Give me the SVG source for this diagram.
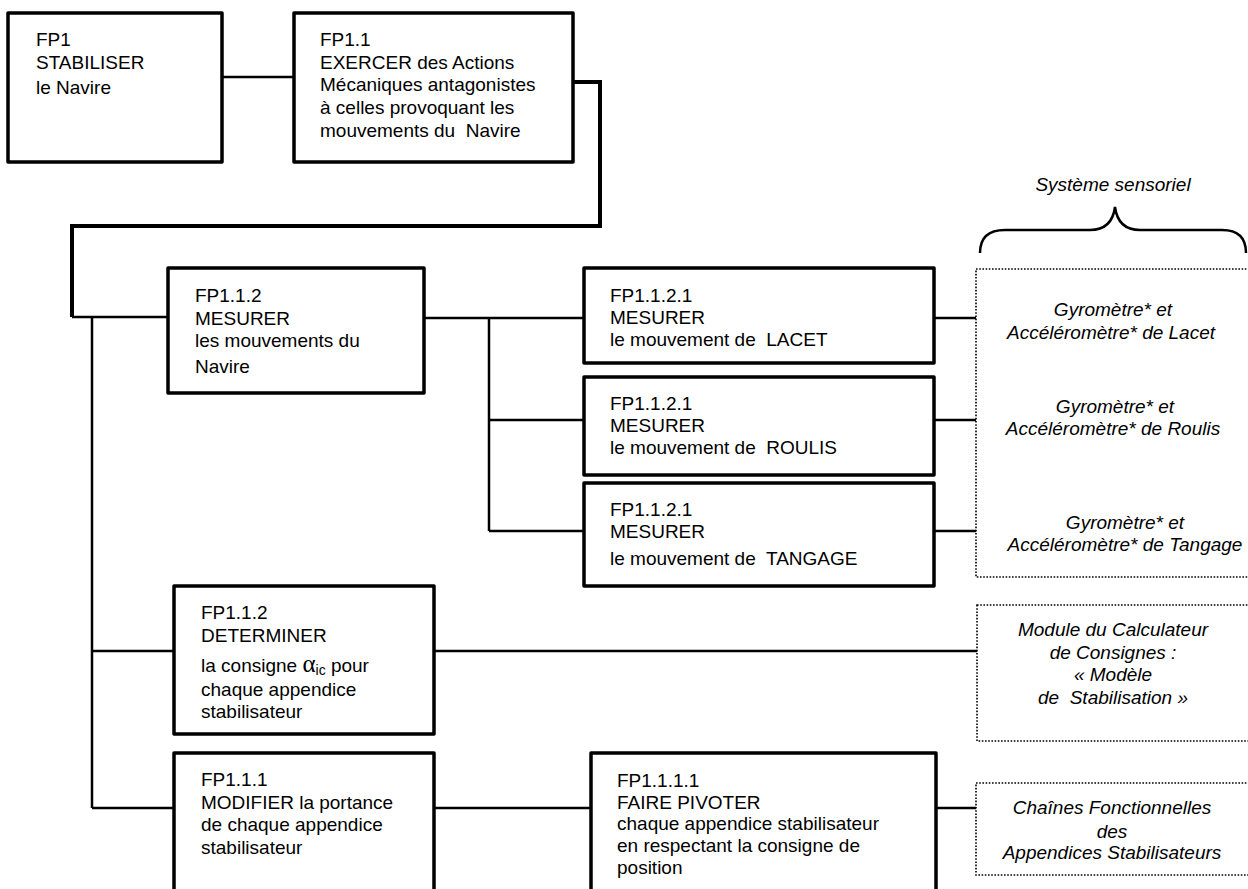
<svg xmlns="http://www.w3.org/2000/svg" width="1248" height="889" viewBox="0 0 1248 889">
<style>
.box{fill:#fff;stroke:#000;stroke-width:3.5;stroke-linejoin:round}
.dot{fill:#fff;stroke:#000;stroke-width:1.6;stroke-dasharray:1.6 1.6}
.t{font-family:"Liberation Sans",Arial,sans-serif;font-size:19px;fill:#000}
.i{font-family:"Liberation Sans",Arial,sans-serif;font-size:19px;font-style:italic;fill:#000;text-anchor:middle}
.c{fill:none;stroke:#000;stroke-width:2.5}
.ct{fill:none;stroke:#000;stroke-width:4;stroke-linejoin:miter}
</style>
<rect width="1248" height="889" fill="#fff"/>
<g id="connectors">
<line class="c" x1="222" y1="77" x2="294" y2="77"/>
<polyline class="ct" points="573,82 600,82 600,226 72,226 72,317"/>
<line class="c" x1="72" y1="317" x2="168" y2="317"/>
<line class="c" x1="92" y1="317" x2="92" y2="808"/>
<line class="c" x1="92" y1="651" x2="174" y2="651"/>
<line class="c" x1="92" y1="808" x2="174" y2="808"/>
<line class="c" x1="424" y1="318" x2="584" y2="318"/>
<line class="c" x1="489" y1="318" x2="489" y2="531"/>
<line class="c" x1="489" y1="420" x2="584" y2="420"/>
<line class="c" x1="489" y1="531" x2="584" y2="531"/>
<line class="c" x1="934" y1="318" x2="976" y2="318"/>
<line class="c" x1="934" y1="420" x2="976" y2="420"/>
<line class="c" x1="934" y1="531" x2="976" y2="531"/>
<line class="c" x1="434" y1="651" x2="977" y2="651"/>
<line class="c" x1="434" y1="808" x2="591" y2="808"/>
<line class="c" x1="936" y1="808" x2="976" y2="808"/>
</g>
<g id="fp1">
<rect class="box" x="8" y="13" width="214" height="149"/>
<text class="t" x="36" y="46">FP1</text>
<text class="t" x="36" y="68.5">STABILISER</text>
<text class="t" x="36" y="94">le Navire</text>
</g>
<g id="fp1-1">
<rect class="box" x="294" y="13" width="279" height="149"/>
<text class="t" x="320" y="46">FP1.1</text>
<text class="t" x="320" y="68.5">EXERCER des Actions</text>
<text class="t" x="320" y="91">Mécaniques antagonistes</text>
<text class="t" x="320" y="114">à celles provoquant les</text>
<text class="t" x="320" y="137" xml:space="preserve">mouvements du  Navire</text>
</g>
<g id="fp1-1-2-mesurer">
<rect class="box" x="168" y="268" width="256" height="125"/>
<text class="t" x="195" y="302">FP1.1.2</text>
<text class="t" x="195" y="325">MESURER</text>
<text class="t" x="195" y="347">les mouvements du</text>
<text class="t" x="195" y="373">Navire</text>
</g>
<g id="fp-lacet">
<rect class="box" x="584" y="268" width="350" height="95"/>
<text class="t" x="610" y="302">FP1.1.2.1</text>
<text class="t" x="610" y="324">MESURER</text>
<text class="t" x="610" y="346" xml:space="preserve">le mouvement de  LACET</text>
</g>
<g id="fp-roulis">
<rect class="box" x="584" y="377" width="350" height="98"/>
<text class="t" x="610" y="410">FP1.1.2.1</text>
<text class="t" x="610" y="432">MESURER</text>
<text class="t" x="610" y="454" xml:space="preserve">le mouvement de  ROULIS</text>
</g>
<g id="fp-tangage">
<rect class="box" x="584" y="483" width="350" height="103"/>
<text class="t" x="610" y="516">FP1.1.2.1</text>
<text class="t" x="610" y="538">MESURER</text>
<text class="t" x="610" y="565" xml:space="preserve">le mouvement de  TANGAGE</text>
</g>
<g id="sensors">
<rect class="dot" x="976" y="269" width="300" height="308"/>
<text class="i" x="1113" y="316">Gyromètre* et</text>
<text class="i" x="1111" y="339">Accéléromètre* de Lacet</text>
<text class="i" x="1115" y="413">Gyromètre* et</text>
<text class="i" x="1113" y="435">Accéléromètre* de Roulis</text>
<text class="i" x="1125" y="529">Gyromètre* et</text>
<text class="i" x="1125" y="551">Accéléromètre* de Tangage</text>
</g>
<g id="brace">
<path class="c" d="M980,253 C980,238 988,230 1005,230 L1090,230 C1105,230 1113,222 1115,207 C1117,222 1125,230 1140,230 L1222,230 C1238,230 1246,238 1246,253"/>
<text class="i" x="1113" y="191">Système sensoriel</text>
</g>
<g id="fp1-1-2-determiner">
<rect class="box" x="174" y="586" width="260" height="148"/>
<text class="t" x="201" y="619">FP1.1.2</text>
<text class="t" x="201" y="642">DETERMINER</text>
<text class="t" x="201" y="672">la consigne <tspan font-family="Liberation Serif" font-size="25">α</tspan><tspan font-size="14" dy="3">ic</tspan><tspan dy="-3"> pour</tspan></text>
<text class="t" x="201" y="696">chaque appendice</text>
<text class="t" x="201" y="718">stabilisateur</text>
</g>
<g id="module">
<rect class="dot" x="977" y="605" width="300" height="136"/>
<text class="i" x="1113" y="636">Module du Calculateur</text>
<text class="i" x="1113" y="659">de Consignes :</text>
<text class="i" x="1113" y="681">« Modèle</text>
<text class="i" x="1113" y="704" xml:space="preserve">de  Stabilisation »</text>
</g>
<g id="fp1-1-1">
<rect class="box" x="174" y="753" width="260" height="160"/>
<text class="t" x="201" y="786">FP1.1.1</text>
<text class="t" x="201" y="809">MODIFIER la portance</text>
<text class="t" x="201" y="831">de chaque appendice</text>
<text class="t" x="201" y="854">stabilisateur</text>
</g>
<g id="fp1-1-1-1">
<rect class="box" x="591" y="753" width="345" height="160"/>
<text class="t" x="617" y="787">FP1.1.1.1</text>
<text class="t" x="617" y="809">FAIRE PIVOTER</text>
<text class="t" x="617" y="830">chaque appendice stabilisateur</text>
<text class="t" x="617" y="852">en respectant la consigne de</text>
<text class="t" x="617" y="874">position</text>
</g>
<g id="chaines">
<rect class="dot" x="976" y="783" width="300" height="92"/>
<text class="i" x="1112" y="814">Chaînes Fonctionnelles</text>
<text class="i" x="1112" y="838">des</text>
<text class="i" x="1112" y="859">Appendices Stabilisateurs</text>
</g>
</svg>
